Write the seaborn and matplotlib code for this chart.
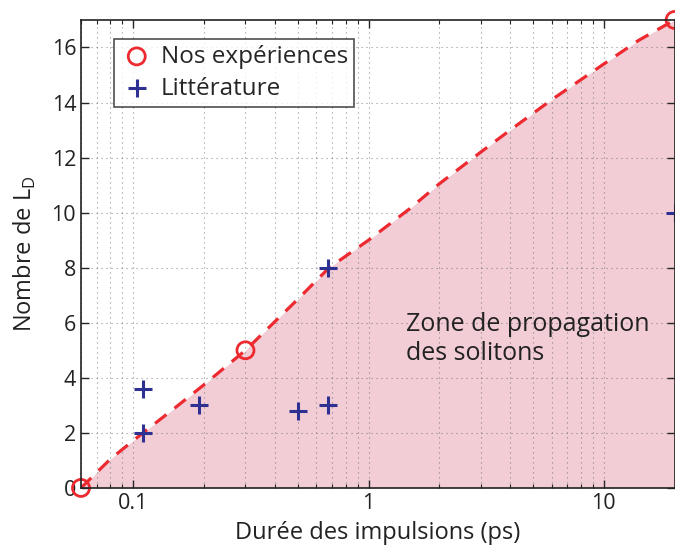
import numpy as np
import pandas as pd
import seaborn as sns
import matplotlib.pyplot as plt
from matplotlib.ticker import FixedLocator, LogLocator, NullFormatter

# ========== DONNÉES ==========
# limite de la zone de propagation des solitons
courbe_ps = [0.06, 0.08, 0.11, 0.15, 0.2, 0.3, 0.5, 0.68, 1, 1.5, 2, 3, 4, 6, 10, 14, 20]
courbe_ld = [0.0, 1.05, 2.0, 2.9, 3.75, 5.0, 6.85, 8.0, 9.0, 10.15, 11.05, 12.2, 13.0, 14.1, 15.4, 16.25, 17.0]

# nos expériences
nos_ps = [0.06, 0.3, 20]
nos_ld = [0.0, 5.0, 17.0]

# littérature
lit_ps = [0.11, 0.11, 0.19, 0.5, 0.67, 0.67, 20]
lit_ld = [2.0, 3.6, 3.0, 2.8, 3.0, 8.0, 10.0]

xticks = [0.1, 1, 10]
xticklabels = ['0.1', '1', '10']
yticks = [0, 2, 4, 6, 8, 10, 12, 14, 16]

rouge = '#ec2a30'
bleu = '#2e3192'
rose = '#f2cdd5'

sns.set_style('ticks')
plt.rcParams['font.family'] = ['Open Sans', 'DejaVu Sans']
plt.rcParams['mathtext.fontset'] = 'custom'
plt.rcParams['mathtext.rm'] = 'Open Sans'

fig = plt.figure(figsize=(6.75, 5.47), dpi=100)
ax = fig.add_axes([0.12, 0.108, 0.8795, 0.8555])

courbe = pd.DataFrame({'ps': courbe_ps, 'ld': courbe_ld})
ax.fill_between(courbe['ps'], 0, courbe['ld'], color=rose, lw=0, zorder=1)
sns.lineplot(data=courbe, x='ps', y='ld', ax=ax, color=rouge, lw=2.3,
             dashes=False, zorder=3)
ax.lines[-1].set_dashes([4.5, 3.2])

sns.scatterplot(x=nos_ps, y=nos_ld, ax=ax, marker='o', s=150,
                facecolors='none', edgecolors=rouge, linewidths=2,
                label='Nos expériences', zorder=5, clip_on=False)
sns.scatterplot(x=lit_ps, y=lit_ld, ax=ax, marker='+', s=170,
                color=bleu, linewidths=2.2,
                label='Littérature', zorder=5, clip_on=False)

ax.set_xscale('log')
ax.set_xlim(0.06, 20)
ax.set_ylim(0, 17)

ax.xaxis.set_major_locator(FixedLocator(xticks))
ax.set_xticklabels(xticklabels)
ax.xaxis.set_minor_locator(LogLocator(base=10, subs=np.arange(2, 10)))
ax.xaxis.set_minor_formatter(NullFormatter())
ax.set_yticks(yticks)

ax.tick_params(which='both', direction='in', top=True, right=True,
               labelsize=15.5, labelcolor='#222222')
ax.tick_params(which='major', length=6, width=1)
ax.tick_params(which='minor', length=3, width=0.8)

grille = dict(color='#666666', linestyle=(0, (1, 3.5)), linewidth=0.8, alpha=0.7)
ax.grid(True, which='major', axis='both', **grille)
ax.grid(True, which='minor', axis='x', **grille)
ax.set_axisbelow(False)
for sp in ax.spines.values():
    sp.set_linewidth(1.2)
    sp.set_color('#222222')
    sp.set_zorder(6)

ax.set_xlabel('Durée des impulsions (ps)', fontsize=17, color='#222222', labelpad=5)
ax.set_ylabel(r'Nombre de L$_\mathregular{D}$', fontsize=17, color='#222222', labelpad=10)

ax.text(1.45, 6.4, 'Zone de propagation\ndes solitons', fontsize=18,
        color='#222222', va='top', ha='left', linespacing=1.2, zorder=4)

leg = ax.legend(loc='upper left', bbox_to_anchor=(0.055, 0.96), fontsize=17.5,
                frameon=True, fancybox=False, borderpad=0.25, labelspacing=0.32,
                handletextpad=0.3, handlelength=1.4, borderaxespad=0)
leg.get_frame().set_edgecolor('#222222')
leg.get_frame().set_linewidth(1.2)
leg.set_zorder(7)

plt.savefig('out.png', dpi=100)
